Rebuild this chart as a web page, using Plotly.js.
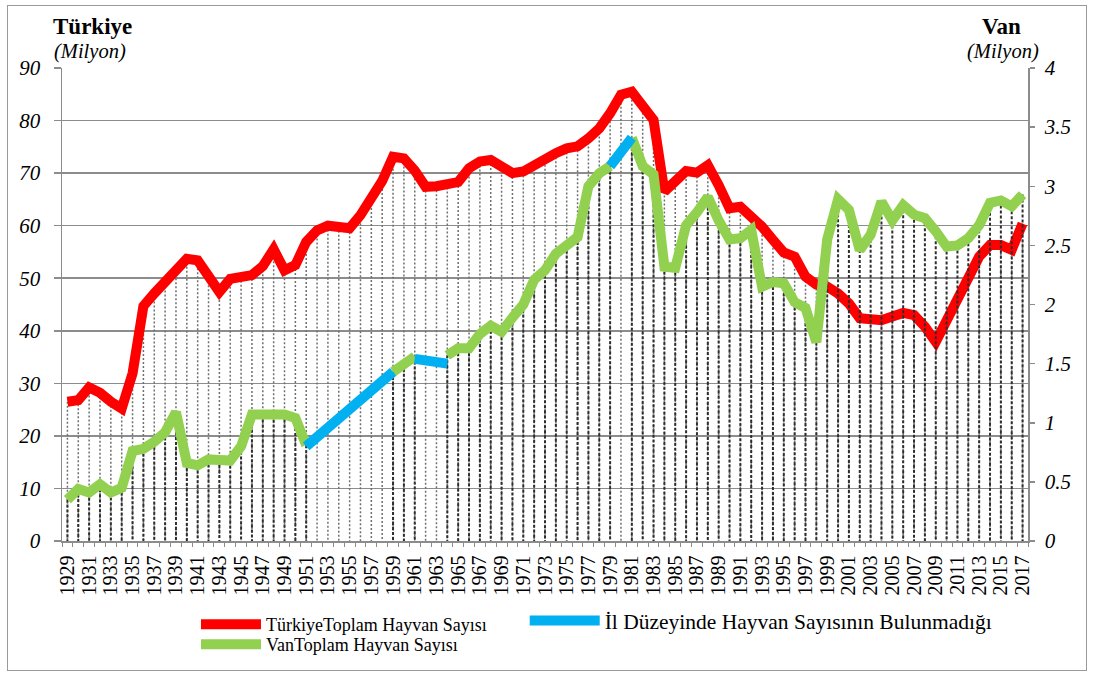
<!DOCTYPE html>
<html>
<head>
<meta charset="utf-8">
<script src="https://cdn.plot.ly/plotly-3.0.1.min.js"></script>
<style>
  html, body { margin: 0; padding: 0; background: #fff; }
  #frame { position: absolute; left: 7px; top: 5px; width: 1080px; height: 666px; border: 1.5px solid #9a9a9a; box-sizing: border-box; }
  #chart { position: absolute; left: 0; top: 0; width: 1094px; height: 675px; }
</style>
</head>
<body>
<div id="frame"></div>
<div id="chart"></div>
<script>
// ---- Data ----
const firstYear = 1929, lastYear = 2017;
const years = [];
for (let y = firstYear; y <= lastYear; y++) years.push(y);

// Türkiye total animal count (million), left axis
const turkiyeTotal = [
  26.5, 26.8, 29.2, 28.2, 26.5, 25.2, 31.9, 44.7, 47.1, 49.2,   // 1929-1938
  51.5, 53.7, 53.4, 50.2, 47.4, 49.9, 50.3, 50.6, 52.3, 55.5,   // 1939-1948
  51.5, 52.5, 56.9, 59.1, 60.0, 59.8, 59.5, 62.0, 64.9, 68.5,   // 1949-1958
  73.1, 72.8, 70.5, 67.4, 67.5, 68.0, 68.3, 70.9, 72.2, 72.5,   // 1959-1968
  71.2, 70.0, 70.3, 71.5, 73.1, 73.8, 74.7, 75.1, 76.6, 78.5,   // 1969-1978
  81.4, 84.9, 85.5, 83.0, 80.1, 66.5, 68.7, 70.4, 70.1, 71.5,   // 1979-1988
  67.7, 63.3, 63.6, 62.0, 59.8, 57.3, 54.9, 54.1, 50.3, 48.8,   // 1989-1998
  48.4, 47.1, 45.2, 42.4, 42.0, 42.0, 42.7, 43.4, 43.0, 40.8,   // 1999-2008
  37.9, 42.0, 46.5, 50.9, 54.1, 56.3, 56.3, 55.4, 60.4          // 2009-2017
];

// Van total animal count (million), right axis (null = no provincial data)
const vanTotal = [
  0.35, 0.44, 0.41, 0.48, 0.41, 0.45, 0.76, 0.78, 0.84, 0.92,   // 1929-1938
  1.09, 0.66, 0.64, 0.69, 0.685, 0.68, 0.80, 1.07, 1.07, 1.07,  // 1939-1948
  1.07, 1.04, 0.81, null, null, null, null, null, null, null,   // 1949-1958
  1.43, 1.50, 1.56, null, null, 1.57, 1.63, 1.63, 1.75, 1.82,   // 1959-1968
  1.77, 1.89, 2.00, 2.21, 2.29, 2.43, 2.50, 2.57, 3.00, 3.11,   // 1969-1978
  3.17, null, 3.41, 3.17, 3.10, 2.32, 2.31, 2.67, 2.78, 2.91,   // 1979-1988
  2.71, 2.55, 2.56, 2.63, 2.15, 2.19, 2.18, 2.02, 1.97, 1.68,   // 1989-1998
  2.55, 2.89, 2.80, 2.46, 2.59, 2.87, 2.71, 2.84, 2.76, 2.73,   // 1999-2008
  2.62, 2.49, 2.50, 2.56, 2.67, 2.86, 2.88, 2.83, 2.93          // 2009-2017
];

// Bridging segments where provincial data is missing
const gapYears  = [1951, 1959, null, 1961, 1964, null, 1979, 1981];
const gapValues = [0.80, 1.43, null, 1.54, 1.50, null, 3.17, 3.41];

// Tick labels (every second year)
const tickYears = years.filter((y, i) => i % 2 === 0);
const tickLabels = tickYears.map(String);

const names = {
  tr: 'TürkiyeToplam Hayvan Sayısı',
  van: 'VanToplam Hayvan Sayısı',
  gap: 'İl Düzeyinde Hayvan Sayısının Bulunmadığı'
};

// ---- Build drop lines from the data ----
function dropLines(xs, ys) {
  const x = [], y = [];
  xs.forEach((yr, i) => {
    if (ys[i] !== null && ys[i] !== undefined) { x.push(yr, yr, null); y.push(ys[i], 0, null); }
  });
  return { x, y };
}
const trDrops = dropLines(years, turkiyeTotal);
const vanDrops = dropLines(years, vanTotal);

const serif = 'Liberation Serif, Times New Roman, serif';

const traces = [
  { x: trDrops.x, y: trDrops.y, type: 'scatter', mode: 'lines', yaxis: 'y',
    line: { color: '#6f6f6f', width: 1.5, dash: '2px,2px' }, showlegend: false, hoverinfo: 'skip' },
  { x: vanDrops.x, y: vanDrops.y, type: 'scatter', mode: 'lines', yaxis: 'y2',
    line: { color: '#2e2e2e', width: 2, dash: '3px,2px' }, showlegend: false, hoverinfo: 'skip' },
  { x: years, y: turkiyeTotal, type: 'scatter', mode: 'lines', name: names.tr, yaxis: 'y',
    line: { color: '#FF0000', width: 10 }, connectgaps: false, legend: 'legend' },
  { x: years, y: vanTotal, type: 'scatter', mode: 'lines', name: names.van, yaxis: 'y2',
    line: { color: '#92D050', width: 10 }, connectgaps: false, legend: 'legend3' },
  { x: gapYears, y: gapValues, type: 'scatter', mode: 'lines', name: names.gap, yaxis: 'y2',
    line: { color: '#00B0F0', width: 10 }, connectgaps: false, legend: 'legend2' }
];

const gridGray = '#8c8c8c';
const legendFont = { family: serif, size: 18, color: '#000' };

const layout = {
  width: 1094, height: 675,
  margin: { l: 62, r: 66, t: 68, b: 134, pad: 0, autoexpand: false },
  paper_bgcolor: 'rgba(0,0,0,0)',
  plot_bgcolor: 'rgba(0,0,0,0)',
  font: { family: serif, color: '#000' },
  xaxis: {
    type: 'linear', range: [firstYear - 0.5, lastYear + 0.5], automargin: false,
    tickmode: 'array', tickvals: tickYears, ticktext: tickLabels,
    tickangle: -90, tickfont: { family: serif, size: 20, color: '#000' },
    ticks: '', ticklabelstandoff: 5,
    minor: { tick0: firstYear - 0.5, dtick: 1, ticks: 'outside', ticklen: 4, tickcolor: gridGray, showgrid: false },
    showgrid: false, zeroline: false,
    showline: true, linecolor: gridGray, linewidth: 1.5, fixedrange: true
  },
  yaxis: {
    range: [0, 90], dtick: 10, tick0: 0, automargin: false,
    showgrid: true, gridcolor: gridGray, gridwidth: 1.5,
    ticks: 'outside', ticklen: 7, tickcolor: gridGray, tickwidth: 1.5,
    tickfont: { family: serif, size: 21, color: '#000', style: 'italic' },
    ticklabelstandoff: 9,
    showline: true, linecolor: gridGray, linewidth: 1.5, zeroline: false, fixedrange: true
  },
  yaxis2: {
    overlaying: 'y', side: 'right', range: [0, 4], dtick: 0.5, tick0: 0, automargin: false,
    showgrid: false, zeroline: false,
    ticks: 'outside', ticklen: 5, tickcolor: gridGray, tickwidth: 1.5,
    tickfont: { family: serif, size: 21, color: '#000', style: 'italic' },
    ticklabelstandoff: 6,
    showline: true, linecolor: gridGray, linewidth: 1.5, fixedrange: true
  },
  legend: {
    x: 0.1387, y: -0.1374, xanchor: 'left', yanchor: 'top', orientation: 'v',
    bgcolor: 'rgba(0,0,0,0)', borderwidth: 0, font: legendFont, itemwidth: 60
  },
  legend3: {
    x: 0.1387, y: -0.1797, xanchor: 'left', yanchor: 'top', orientation: 'v',
    bgcolor: 'rgba(0,0,0,0)', borderwidth: 0, font: legendFont, itemwidth: 60
  },
  legend2: {
    x: 0.479, y: -0.1247, xanchor: 'left', yanchor: 'top', orientation: 'v',
    bgcolor: 'rgba(0,0,0,0)', borderwidth: 0,
    font: { family: serif, size: 21.5, color: '#000' }, itemwidth: 70
  },
  annotations: [
    { text: '<b>Türkiye</b>', xref: 'paper', yref: 'paper', x: -0.011, y: 1.087,
      xanchor: 'left', yanchor: 'middle', showarrow: false, font: { family: serif, size: 23 } },
    { text: '<i>(Milyon)</i>', xref: 'paper', yref: 'paper', x: -0.010, y: 1.034,
      xanchor: 'left', yanchor: 'middle', showarrow: false, font: { family: serif, size: 20.5 } },
    { text: '<b>Van</b>', xref: 'paper', yref: 'paper', x: 0.995, y: 1.087,
      xanchor: 'right', yanchor: 'middle', showarrow: false, font: { family: serif, size: 23 } },
    { text: '<i>(Milyon)</i>', xref: 'paper', yref: 'paper', x: 1.013, y: 1.034,
      xanchor: 'right', yanchor: 'middle', showarrow: false, font: { family: serif, size: 20.5 } }
  ],
  showlegend: true
};

Plotly.newPlot('chart', traces, layout, { displayModeBar: false, staticPlot: true });
</script>
</body>
</html>
